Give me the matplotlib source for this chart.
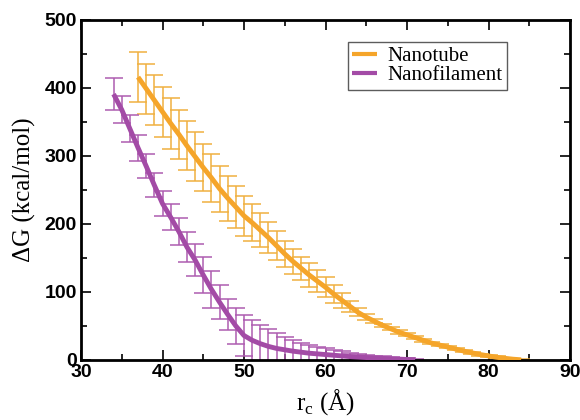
import matplotlib
matplotlib.use("Agg")
import matplotlib.pyplot as plt
from matplotlib.ticker import MultipleLocator

# Nanotube
tube_x = list(range(37, 85))
tube_y = [416, 399, 382, 365, 348, 332, 315, 299, 283, 268, 252, 238, 225, 212,
          202, 191, 180, 168, 156, 145, 135, 125, 116, 107, 97, 88, 79, 70, 63,
          57, 51, 46, 41, 37, 33, 29, 25, 22, 19, 16, 13, 10.5, 8, 6, 4, 2.5, 1.2, 0.3]
tube_err = [37, 37, 37, 37, 37, 36, 36, 36, 35, 35, 34, 33, 31, 29,
            27, 25, 23, 21, 19, 18, 17, 17, 16, 15, 13, 11, 8, 6, 4,
            3, 2.5, 2.5, 2.5, 2.2, 2.2, 2, 2, 2, 1.8, 1.8, 1.6, 1.5, 1.4, 1.3, 1.2, 1, 1, 1]

# Nanofilament
fil_x = list(range(34, 72))
fil_y = [391, 368, 340, 312, 285, 257, 230, 210, 189, 166, 147, 125, 104, 85,
         67, 50, 36, 29, 24, 20, 17, 15, 13, 11.5, 10, 9, 8, 7, 6, 5, 4.3,
         3.6, 3, 2.4, 1.8, 1.3, 0.8, 0.4]
fil_err = [24, 20, 20, 19, 18, 18, 18, 19, 20, 22, 24, 26, 27, 25,
           23, 26, 30, 30, 28, 25, 22, 19, 16, 14, 12, 10, 9, 8, 7, 6, 5,
           4, 3.5, 3, 2.5, 2, 1.5, 1]

c_tube = '#F5A52A'
c_tube_err = '#F0B040'
c_fil = '#A34BA6'
c_fil_err = '#AE5CB0'

fig = plt.figure(figsize=(5.8, 4.2), dpi=100)
ax = fig.add_axes([81/580, 1-360/420, (570-81)/580, (360-20)/420])

ax.errorbar(tube_x, tube_y, yerr=tube_err, fmt='none', ecolor=c_tube_err,
            elinewidth=1.1, capsize=6.5, capthick=1.1, zorder=2)
ax.errorbar(fil_x, fil_y, yerr=fil_err, fmt='none', ecolor=c_fil_err,
            elinewidth=1.1, capsize=6.5, capthick=1.1, zorder=2)
ax.plot(tube_x, tube_y, color=c_tube, lw=3.5, label='Nanotube', zorder=3,
        solid_capstyle='butt')
ax.plot(fil_x, fil_y, color=c_fil, lw=3.5, label='Nanofilament', zorder=3,
        solid_capstyle='butt')

ax.set_xlim(30, 90)
ax.set_ylim(0, 500)
ax.xaxis.set_major_locator(MultipleLocator(10))
ax.xaxis.set_minor_locator(MultipleLocator(5))
ax.yaxis.set_major_locator(MultipleLocator(100))
ax.yaxis.set_minor_locator(MultipleLocator(50))
ax.tick_params(which='both', direction='in', top=True, right=True, width=1.2)
ax.tick_params(which='major', length=7, pad=3)
ax.tick_params(which='minor', length=4)
for lab in ax.get_xticklabels() + ax.get_yticklabels():
    lab.set_fontfamily('Liberation Sans')
    lab.set_fontweight('bold')
    lab.set_fontsize(14)
for sp in ax.spines.values():
    sp.set_linewidth(2)

ax.set_xlabel(r'r$_\mathregular{c}$ (Å)', fontfamily='Liberation Serif', fontsize=18)
ax.set_ylabel('ΔG (kcal/mol)', fontfamily='Liberation Serif', fontsize=18)
ax.xaxis.set_label_coords(0.5, -0.08)
ax.yaxis.set_label_coords(-0.092, 0.5)

leg = ax.legend(loc='upper left', bbox_to_anchor=(0.546, 0.935),
                prop={'family': 'Liberation Serif', 'size': 15},
                frameon=True, fancybox=False, handlelength=1.2,
                handletextpad=0.5, labelspacing=0.0, borderpad=0.2,
                borderaxespad=0)
leg.get_frame().set_edgecolor('#333333')
leg.get_frame().set_linewidth(1.0)
for h in leg.get_lines():
    h.set_linewidth(3)

fig.savefig('out.png', dpi=100)
